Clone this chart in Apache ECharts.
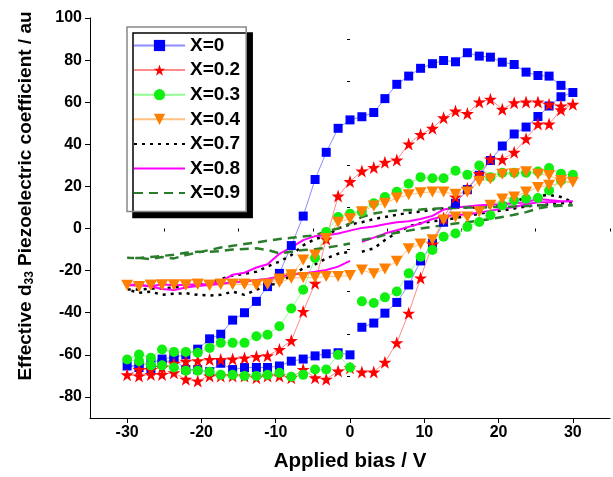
<!DOCTYPE html>
<html>
<head>
<meta charset="utf-8">
<script src="https://cdn.jsdelivr.net/npm/echarts@6/dist/echarts.min.js"></script>
<style>
html, body { margin: 0; padding: 0; background: #fff; }
#chart { width: 613px; height: 477px; }
</style>
</head>
<body>
<div id="chart"></div>
<script>
// bias sweep: 0 -> +30 -> -30 -> 0 (first point 1.6 V)
var bias = [
  1.6, 3.2, 4.7, 6.3, 7.9, 9.5, 11.1, 12.6, 14.2, 15.8, 17.4, 18.9, 20.5, 22.1, 23.7, 25.3, 26.8, 28.4, 30,
  28.4, 26.8, 25.3, 23.7, 22.1, 20.5, 18.9, 17.4, 15.8, 14.2, 12.6, 11.1, 9.5, 7.9, 6.3, 4.7, 3.2, 1.6, 0,
  -1.6, -3.2, -4.7, -6.3, -7.9, -9.5, -11.1, -12.6, -14.2, -15.8, -17.4, -18.9, -20.5, -22.1, -23.7, -25.3, -26.8, -28.4, -30,
  -28.4, -26.8, -25.3, -23.7, -22.1, -20.5, -18.9, -17.4, -15.8, -14.2, -12.6, -11.1, -9.5, -7.9, -6.3, -4.7, -3.2, -1.6, 0
];

var x0 = [
  -46.9, -44.9, -40.2, -35.1, -26.8, -15.4, -7, 3, 12, 18.5, 25.3, 32.3, 39.2, 44.9, 48.2, 53.2, 58.2, 62.6, 64.6,
  68.0, 72.4, 72.7, 74.3, 77.9, 79.0, 81.4, 81.9, 83.5, 79.2, 79.8, 78.3, 76.1, 72.4, 68.5, 61.7, 55.1, 53.1, 51.6,
  47.6, 36.2, 23.3, 5.9, -8.1, -21.3, -27.6, -34.6, -40.0, -43.5, -50.2, -52.4, -57.3, -60, -61.1, -62, -64, -64.9, -65.3,
  -66, -67, -64, -62, -67, -67, -68, -64, -67, -66, -66, -66, -65.3, -63, -62, -60.5, -59.5, -59, -60
];
var x02 = [
  -68.2, -68.2, -63.5, -54.3, -40.2, -23.5, -7.4, 5, 15, 19, 26, 33, 32.8, 36.2, 42.6, 49.6, 49.6, 56.4, 59,
  58.2, 59, 60.1, 60.1, 59.8, 56.7, 61.4, 60.1, 54.6, 55.8, 52.6, 47.6, 44.7, 40.2, 32.5, 31.5, 29, 27.3, 22.3,
  15.4, -5, -26, -39.4, -53.2, -57.5, -60.4, -60.8, -61.5, -62, -62.2, -62.2, -62.8, -63, -64, -66, -67, -67, -69.5,
  -70, -69.3, -69.3, -68.5, -71.6, -72.4, -70, -70, -70, -70, -70.9, -70, -70, -70.9, -66.9, -70.9, -71.6, -67.7, -66.1
];
var x03 = [
  -34.6, -35.4, -32.7, -29.9, -21.3, -13.4, -10.2, -3.9, -2.4, 0.8, 3.1, 6.3, 11, 13.4, 14.2, 14.5, 18.1, 22.8, 25.5,
  26, 28.7, 27.1, 26.5, 26.5, 26.5, 24.4, 29.9, 25.5, 27.5, 23.9, 23.9, 24.4, 21.3, 17.5, 15, 12, 8, 7,
  5.5, -1.6, -14, -29.1, -38, -46.4, -50.4, -51.2, -54.3, -54.3, -54.3, -56.7, -59, -58.6, -58.6, -57.5, -61.4, -59.8, -62.2,
  -63, -65, -65, -66, -67.5, -67.5, -68, -69.5, -69.5, -70, -70, -69.5, -68.5, -70.4, -69.5, -67, -67, -60, -66
];
var x04 = [
  -19.7, -21.5, -19.2, -15.5, -9.6, -7.3, -5.3, 4, 5.5, 5.5, 8, 11, 14, 15, 17.3, 19.5, 20.5, 21.5, 22,
  22.8, 25.2, 25.8, 27, 26, 25.8, 23.5, 22.5, 17.3, 16.3, 17.3, 17.4, 17, 16, 14.5, 12, 10.7, 8, 4.7,
  3, -4.7, -12.6, -15, -22, -24, -26.5, -26.8, -26.5, -26.5, -26.5, -27, -26.5, -26.8, -26.8, -26.8, -27, -27.5, -27,
  -27.5, -27, -26.8, -26.8, -26.8, -26.5, -27, -26.5, -26.5, -26.5, -26.8, -26.5, -25.5, -23.6, -23.3, -23.3, -22.8, -22.8, -22.3
];
var x07 = [
  -11, -9.4, -5.5, -2, 1, 2.5, 3.5, 4, 5, 6, 7, 8, 8.5, 9.5, 10.5, 11, 11.5, 12, 12.5,
  15, 16, 15.5, 14.5, 13, 11.5, 10.2, 10, 10, 10, 9.5, 9, 8, 7.5, 6.5, 5.5, 4.5, 3, 2,
  0, -3.5, -5, -8, -12.6, -15.7, -18, -20.5, -21.5, -22.3, -24, -25.5, -26.5, -27.5, -28, -28.5, -28.5, -29, -29,
  -30.5, -30, -31.5, -31, -30.7, -31.5, -31.8, -31.5, -30, -31.5, -29.1, -27, -26, -22, -19, -17, -14.2, -12, -11
];
var x08 = [
  -6.3, -4.3, -2.4, -0.8, 0.8, 2.4, 4.5, 5.8, 6.3, 6.8, 7.5, 8.5, 9.4, 10.2, 11.5, 12.5, 12.5, 12.8, 12.9,
  13, 13.5, 14, 12.5, 12, 11.5, 11.3, 11, 10.5, 10, 9, 6, 4.5, 3.5, 3, 2, 1, 0.3, -1,
  -2.4, -3.3, -3.6, -5.5, -9, -12, -17, -18.5, -21, -22, -25, -26.3, -26.5, -26.7, -27, -26.5, -27.5, -27, -27,
  -26.5, -27.5, -28.7, -29.2, -28, -27.3, -26.8, -26.2, -25.5, -25.2, -24.4, -23.9, -22.8, -22, -21.3, -20.5, -19.7, -18.1, -15.4
];
var x09 = [
  -5.5, -4.5, -3, -2, -1, 0, 0.8, 1.6, 2.4, 3, 3.8, 4.5, 5.5, 6.5, 7.8, 9.5, 10.5, 10.8, 11,
  11, 11, 11, 10.7, 10.5, 10.2, 10.2, 10, 10, 9.8, 9.6, 9.4, 9, 8.8, 8.6, 8, 7.1, 5.5, 2.4,
  0, -1.3, -3.2, -3.8, -4.4, -5, -5.8, -6.6, -7.4, -8.2, -9, -10.2, -11.4, -12.6, -14.2, -13.5, -14.5, -14, -13.9,
  -14, -13.5, -13, -12.5, -11.5, -11, -11, -10.7, -10, -9.7, -9.4, -10.2, -11.8, -11, -10.2, -9.8, -9.1, -8.2, -7.1
];

var xTicks = [-30, -20, -10, 0, 10, 20, 30];
var xMinorTicks = [-35, -25, -15, -5, 5, 15, 25, 35];
var yTicks = [-80, -60, -40, -20, 0, 20, 40, 60, 80, 100];
var yMinorTicks = [-90, -70, -50, -30, -10, 10, 30, 50, 70, 90];

var FONT = '"Liberation Sans", Arial, sans-serif';
var STAR = 'path://M50,0 L61.8,35.1 L98.1,35.1 L68.7,56.7 L79.9,91 L50,70 L20.1,91 L31.3,56.7 L1.9,35.1 L38.2,35.1 Z';
var TRI_DOWN = 'path://M0,0 L10,0 L5,9 Z';

function pairs (ys) {
  return ys.map(function (y, i) { return [bias[i], y] })
}

function markerSeries (name, ys, symbol, size, color, lineColor) {
  return {
    name: name,
    type: 'line',
    data: pairs(ys),
    symbol: symbol,
    symbolSize: size,
    itemStyle: { color: color },
    lineStyle: { color: lineColor, width: 1 }
  }
}

function plainSeries (name, ys, color, width, dash) {
  return {
    name: name,
    type: 'line',
    data: pairs(ys),
    symbol: 'none',
    itemStyle: { color: color },
    lineStyle: { color: color, width: width, type: dash }
  }
}

// legend entry of a line-only series: hide the marker, keep the line
function lineOnly (name) {
  return { name: name, itemStyle: { color: 'rgba(0,0,0,0)', opacity: 0, borderWidth: 0 } }
}

var chart = echarts.init(document.getElementById('chart'))

var axisLine = { show: true, onZero: false, lineStyle: { color: '#000', width: 1 } }

var option = {
  backgroundColor: '#fff',
  animation: false,
  grid: { left: 90, right: 3, top: 18, bottom: 57, containLabel: false },
  legend: {
    orient: 'vertical',
    left: 127,
    top: 27,
    padding: [9, 6, 9, 6],
    itemWidth: 51,
    itemHeight: 14,
    itemGap: 5.6,
    itemTextGap: 6,
    backgroundColor: '#fff',
    borderColor: '#888',
    borderWidth: 1.5,
    borderRadius: 0,
    shadowColor: '#000',
    shadowBlur: 0,
    shadowOffsetX: 6,
    shadowOffsetY: 6,
    textStyle: { fontFamily: FONT, fontWeight: 'bold', fontSize: 19, color: '#000' },
    data: ['X=0', 'X=0.2', 'X=0.3', 'X=0.4', lineOnly('X=0.7'), lineOnly('X=0.8'), lineOnly('X=0.9')]
  },
  xAxis: [
    {
      type: 'value',
      min: -35,
      max: 35,
      name: 'Applied bias / V',
      nameLocation: 'middle',
      nameGap: 33,
      nameTextStyle: { fontFamily: FONT, fontWeight: 'bold', fontSize: 20.5, color: '#000' },
      axisLine: axisLine,
      axisTick: { show: true, customValues: xTicks, length: 5, lineStyle: { color: '#000' } },
      axisLabel: { customValues: xTicks, margin: 7, fontFamily: FONT, fontWeight: 'bold', fontSize: 16, color: '#000' },
      splitLine: { show: false }
    },
    {
      // minor ticks only
      type: 'value',
      min: -35,
      max: 35,
      position: 'bottom',
      axisLine: { show: false },
      axisTick: { show: true, customValues: xMinorTicks, length: 3, lineStyle: { color: '#000' } },
      axisLabel: { show: false },
      splitLine: { show: false }
    }
  ],
  yAxis: [
    {
      type: 'value',
      min: -90,
      max: 100,
      name: 'Effective d{sub|33} Piezoelectric coefficient / au',
      nameLocation: 'middle',
      nameGap: 54,
      nameTextStyle: {
        fontFamily: FONT, fontWeight: 'bold', fontSize: 19, color: '#000',
        padding: [0, 0, 0, 44],
        rich: { sub: { fontFamily: FONT, fontWeight: 'bold', fontSize: 12, color: '#000', verticalAlign: 'bottom', padding: [8, 0, 0, 0] } }
      },
      axisLine: axisLine,
      axisTick: { show: true, customValues: yTicks, length: 5, lineStyle: { color: '#000' } },
      axisLabel: { customValues: yTicks, margin: 8, fontFamily: FONT, fontWeight: 'bold', fontSize: 16, color: '#000' },
      splitLine: { show: false }
    },
    {
      type: 'value',
      min: -90,
      max: 100,
      position: 'left',
      axisLine: { show: false },
      axisTick: { show: true, customValues: yMinorTicks, length: 3, lineStyle: { color: '#000' } },
      axisLabel: { show: false },
      splitLine: { show: false }
    }
  ],
  series: [
    markerSeries('X=0', x0, 'rect', 9, '#0000ff', '#8c8cff'),
    markerSeries('X=0.2', x02, STAR, 13, '#ff0000', '#ff8a8a'),
    markerSeries('X=0.3', x03, 'circle', 10, '#11ee11', '#90ff90'),
    markerSeries('X=0.4', x04, TRI_DOWN, [12, 11], '#ff8000', '#ffc080'),
    plainSeries('X=0.7', x07, '#000000', 2.5, [3, 5]),
    plainSeries('X=0.8', x08, '#ff00ff', 2, 'solid'),
    plainSeries('X=0.9', x09, '#2a7d2a', 2.5, [9, 6])
  ]
}

chart.setOption(option)
</script>
</body>
</html>
